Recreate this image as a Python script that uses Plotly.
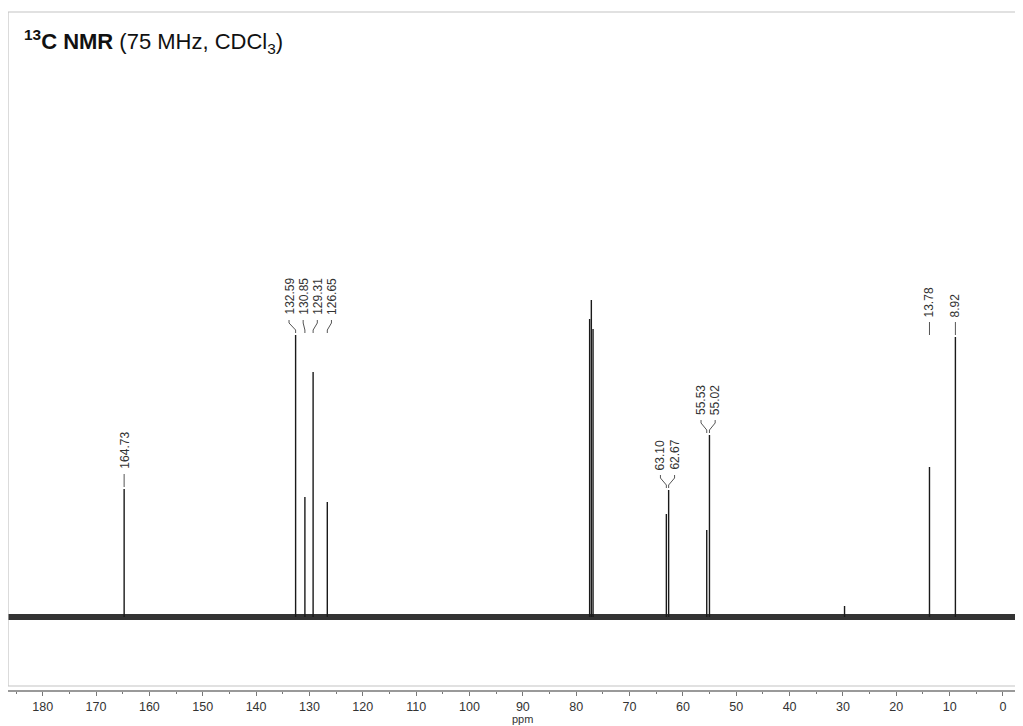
import plotly.graph_objects as go

# ---- data -------------------------------------------------------------
peak_ppm = [164.73, 132.59, 130.85, 129.31, 126.65, 77.48, 77.16, 76.84,
            63.10, 62.67, 55.53, 55.02, 29.70, 13.78, 8.92]
peak_height = [128, 282, 120, 245, 115, 298, 317, 288,
               103, 127, 87, 182, 11, 150, 280]

# labelled peaks, grouped the way the labels are drawn
label_groups = [
    [164.73],
    [132.59, 130.85, 129.31, 126.65],
    [63.10, 62.67],
    [55.53, 55.02],
    [13.78, 8.92],
]

x_ticks = [180, 170, 160, 150, 140, 130, 120, 110, 100, 90, 80, 70, 60, 50, 40, 30, 20, 10, 0]
x_minor = [185, 175, 165, 155, 145, 135, 125, 115, 105, 95, 85, 75, 65, 55, 45, 35, 25, 15, 5]
x_range = [186.5, -3.75]
y_range = [-73, 605]

title_html = "<b><sup>13</sup>C NMR</b> (75 MHz, CDCl<sub>3</sub>)"

FONT = "Liberation Sans, Arial, sans-serif"
PLOT_H = 678  # plot-area height in px

# ---- figure -----------------------------------------------------------
fig = go.Figure()

# baseline (noise band)
fig.add_trace(go.Scatter(x=x_range, y=[0, 0], mode="lines",
                         line=dict(color="#333", width=6),
                         hoverinfo="skip", showlegend=False))

# peaks as sticks
sx, sy = [], []
for p, h in zip(peak_ppm, peak_height):
    sx += [p, p, None]
    sy += [0, h, None]
fig.add_trace(go.Scatter(x=sx, y=sy, mode="lines",
                         line=dict(color="#1a1a1a", width=1.4),
                         hoverinfo="skip", showlegend=False))

# labels with connectors
height_of = dict(zip(peak_ppm, peak_height))
MIN_SPACING = 2.65  # ppm between rotated labels
cx, cy = [], []
for grp in label_groups:
    top = max(height_of[p] for p in grp)
    gaps_ok = all(abs(grp[i] - grp[i + 1]) >= MIN_SPACING for i in range(len(grp) - 1))
    if gaps_ok:
        lab_x = list(grp)
    else:
        c = sum(grp) / len(grp)
        n = len(grp)
        lab_x = [c + ((n - 1) / 2 - i) * MIN_SPACING for i in range(n)]
    y_low = top + 2
    y_high = top + 15
    for p, lx in zip(grp, lab_x):
        if abs(p - lx) < 0.3:
            cx += [p, p, None]
            cy += [y_low, y_high, None]
        else:
            cx += [p, p, lx, lx, None]
            cy += [y_low, y_low + 3, y_high - 3, y_high, None]
        fig.add_annotation(x=lx, y=y_high + 3, xref="x", yref="y",
                           text=f"{p:.2f}", textangle=-90, showarrow=False,
                           xanchor="center", yanchor="bottom",
                           font=dict(family=FONT, size=12, color="#333"))
fig.add_trace(go.Scatter(x=cx, y=cy, mode="lines",
                         line=dict(color="#555", width=1),
                         hoverinfo="skip", showlegend=False))

# title
fig.add_annotation(x=0.0135, y=1 - 30 / PLOT_H, xref="paper", yref="paper",
                   text=title_html, showarrow=False, xanchor="left", yanchor="middle",
                   font=dict(family=FONT, size=22, color="#111"))

# ppm axis label
fig.add_annotation(x=90, y=-(718.5 - 690) / PLOT_H, xref="x", yref="paper",
                   text="ppm", showarrow=False, xanchor="center", yanchor="middle",
                   font=dict(family=FONT, size=11, color="#333"))

# frame
fig.add_shape(type="rect", xref="paper", yref="paper",
              x0=0, x1=1.01, y0=4 / PLOT_H, y1=1,
              line=dict(color="#c4c4c4", width=1.2))

# the page body adds an 8px offset, so the figure is 8px smaller
fig.update_layout(
    width=1015, height=718,
    margin=dict(l=0, r=0, t=4, b=36),
    paper_bgcolor="white", plot_bgcolor="white",
    xaxis=dict(range=x_range, tickmode="array", tickvals=x_ticks,
               ticktext=[str(t) for t in x_ticks],
               showgrid=False, zeroline=False,
               showline=True, linecolor="#999", linewidth=1.5,
               ticks="outside", ticklen=4, tickcolor="#777", tickwidth=1,
               minor=dict(tickvals=x_minor,
                          ticks="outside", ticklen=2, tickcolor="#777"),
               tickfont=dict(family=FONT, size=12.5, color="#333")),
    yaxis=dict(range=y_range, visible=False, showgrid=False, zeroline=False),
)

fig.write_html("out.html")
